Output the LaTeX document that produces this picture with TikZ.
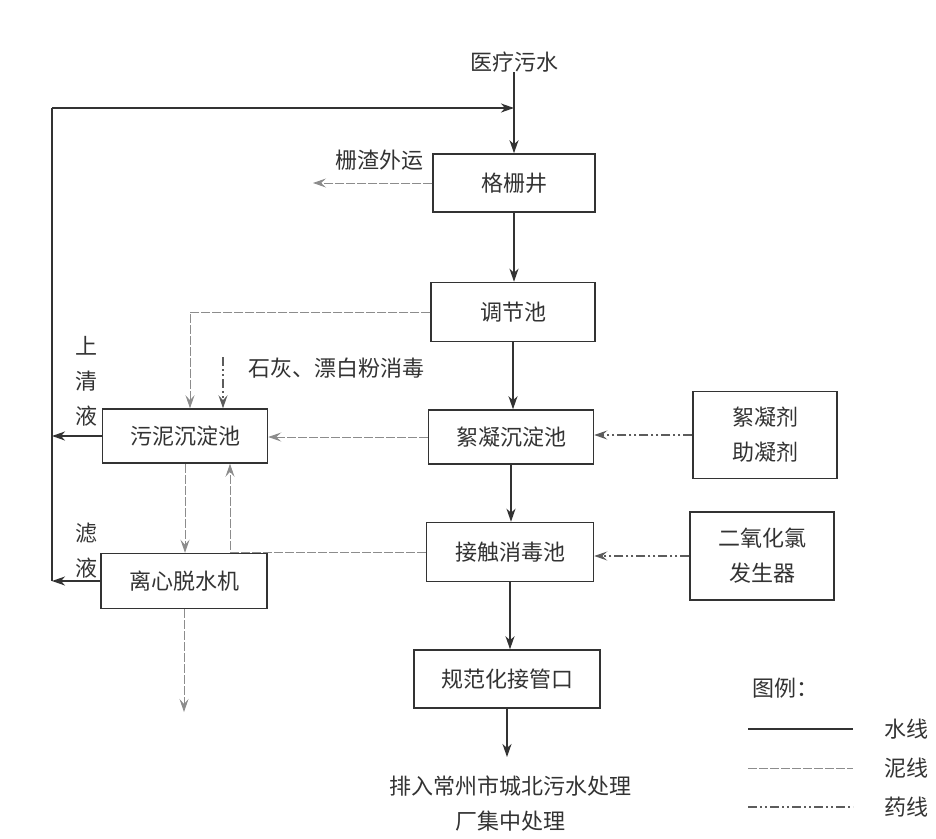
\documentclass[tikz,border=0pt]{standalone}
\usepackage{fontspec}
\setmainfont{Noto Sans CJK SC}
\usetikzlibrary{arrows.meta}
\definecolor{ink}{HTML}{333333}
\definecolor{sl}{HTML}{8C8C8C}
\begin{document}
\begin{tikzpicture}[x=1pt,y=-1pt,
  every node/.style={text=ink,font=\fontsize{22}{35}\selectfont,inner sep=0pt},
  box/.style={draw=ink,line width=1.5pt,align=center},
  lbl/.style={align=center},
  water/.style={draw=ink,line width=1.5pt,-{Stealth[length=13pt,width=9pt,inset=4pt]}},
  wline/.style={draw=ink,line width=1.5pt},
  sludge/.style={draw=sl,line width=0.9pt,dash pattern=on 9pt off 2pt,-{Stealth[length=13pt,width=9pt,inset=5pt]}},
  sline/.style={draw=sl,line width=0.9pt,dash pattern=on 9pt off 2pt},
  drug/.style={draw=ink!80,line width=1.1pt,dash pattern=on 9pt off 3pt on 2pt off 3pt on 2pt off 3pt,-{Stealth[length=13pt,width=9pt,inset=5pt]}},
  dline/.style={draw=ink!80,line width=1.1pt,dash pattern=on 9pt off 3pt on 2pt off 3pt on 2pt off 3pt}]
\useasboundingbox (0,0) rectangle (936,838);
\fill[white] (0,0) rectangle (936,838);

% main column
\node[lbl] (src) at (514,62) {医疗污水};
\node[box,minimum width=162,minimum height=58] (gsj) at (514,183) {格栅井};
\node[box,minimum width=164,minimum height=59] (tjc) at (513,312) {调节池};
\node[box,minimum width=165,minimum height=54] (xn) at (511,437) {絮凝沉淀池};
\node[box,minimum width=167,minimum height=59] (jc) at (510,552) {接触消毒池};
\node[box,minimum width=186,minimum height=58] (gfh) at (507,679) {规范化接管口};
\node[lbl] (dis) at (510,804) {排入常州市城北污水处理\\厂集中处理};

% left column
\node[box,minimum width=165,minimum height=54] (wn) at (185,436) {污泥沉淀池};
\node[box,minimum width=166,minimum height=55] (lx) at (184,581) {离心脱水机};

% right column
\node[box,minimum width=144,minimum height=87] (xnj) at (765,435) {絮凝剂\\助凝剂};
\node[box,minimum width=144,minimum height=88] (eyh) at (762,556) {二氧化氯\\发生器};

% labels
\node[lbl] (zzl) at (379,160) {栅渣外运};
\node[lbl] (limel) at (336,368) {石灰、漂白粉消毒};
\node[lbl] (sqy) at (86,381) {上\\清\\液};
\node[lbl] (lye) at (86,551) {滤\\液};

% coordinates
\coordinate (tl) at (52,108);
\coordinate (bl) at (52,581);
\coordinate (zzend) at (313,183);
\coordinate (lime) at (223,357);
\coordinate (lxout) at (184,712);
\coordinate (out) at (507,757);

% water flow
\draw[water] (src.south) -- (src.south |- gsj.north);
\draw[water] (gsj.south) -- (gsj.south |- tjc.north);
\draw[water] (tjc.south) -- (tjc.south |- xn.north);
\draw[water] (xn.south) -- (xn.south |- jc.north);
\draw[water] (jc.south) -- (jc.south |- gfh.north);
\draw[water] (gfh.south) -- (out);

% return line
\draw[wline] (tl) -- (bl);
\draw[water] (tl) -- (tl -| src.south);
\draw[water] (wn.west) -- (wn.west -| tl);
\draw[water] (lx.west) -- (bl);

% sludge
\draw[sludge] (gsj.west) -- (zzend);
\draw[sludge] (tjc.west) -| ([xshift=5pt]wn.north);
\draw[sludge] (xn.west) -- (xn.west -| wn.east);
\draw[sludge] (wn.south) -- (wn.south |- lx.north);
\draw[sludge] (lx.south) -- (lxout);
\draw[sludge] (jc.west) -| ([xshift=45pt]wn.south);

% chemicals
\draw[drug] (lime) -- (lime |- wn.north);
\draw[drug] (xnj.west) -- (xnj.west -| xn.east);
\draw[drug] (eyh.west) -- (eyh.west -| jc.east);

% legend
\node[lbl] (lg) at (785,688) {图例：};
\coordinate (la1) at (748,729); \coordinate (lb1) at (853,729);
\coordinate (la2) at (748,768); \coordinate (lb2) at (853,768);
\coordinate (la3) at (748,807); \coordinate (lb3) at (853,807);
\draw[wline] (la1) -- (lb1);
\draw[sline] (la2) -- (lb2);
\draw[dline] (la3) -- (lb3);
\node[lbl] (lw) at (906,729) {水线};
\node[lbl] (ls) at (906,768) {泥线};
\node[lbl] (ld) at (906,807) {药线};
\end{tikzpicture}
\end{document}
